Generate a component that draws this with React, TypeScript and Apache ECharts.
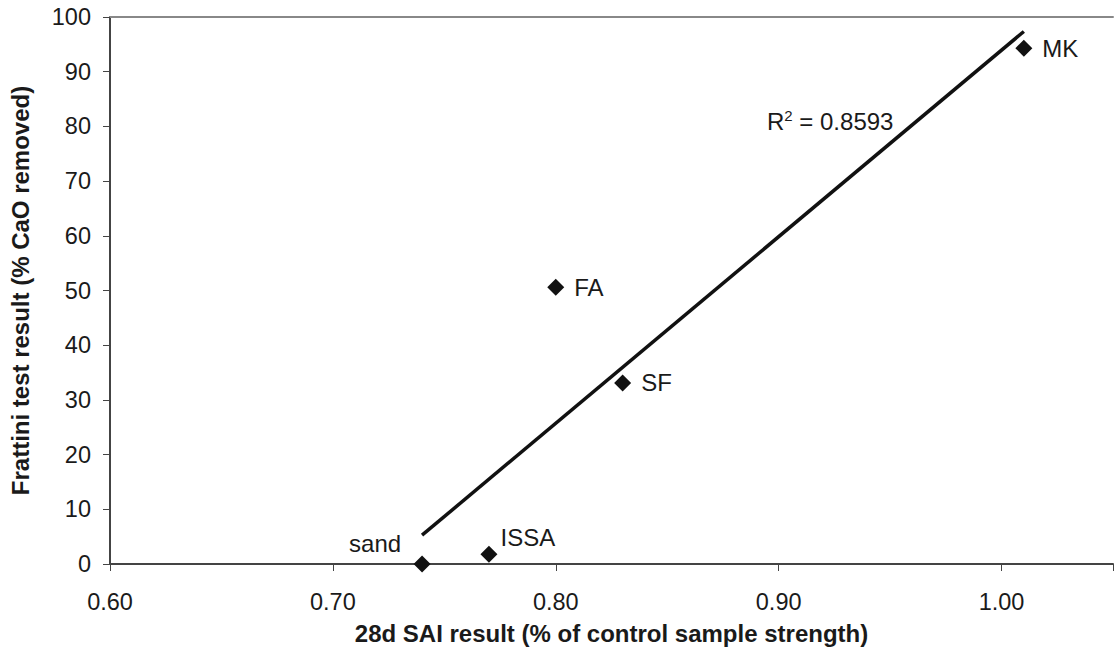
import React, { useEffect, useRef } from "react";
import * as echarts from "echarts";

const materials = ["sand", "ISSA", "FA", "SF", "MK"];
const saiValues = [0.74, 0.77, 0.8, 0.83, 1.01];
const frattiniValues = [0, 1.8, 50.6, 33.1, 94.3];
const labelOffsets: [number, number][] = [
  [-47, -21],
  [39, -17],
  [0, 0],
  [0, 0],
  [0, 0],
];
const rSquaredText = "0.8593";

const FONT = "Liberation Sans, Arial, sans-serif";
const TEXT = "#1a1a1a";

function regression(xs: number[], ys: number[]) {
  const n = xs.length;
  const mx = xs.reduce((a, b) => a + b, 0) / n;
  const my = ys.reduce((a, b) => a + b, 0) / n;
  let sxx = 0,
    sxy = 0;
  for (let i = 0; i < n; i++) {
    sxx += (xs[i] - mx) ** 2;
    sxy += (xs[i] - mx) * (ys[i] - my);
  }
  const slope = sxy / sxx;
  return { slope, intercept: my - slope * mx };
}

export default function App() {
  const ref = useRef<HTMLDivElement>(null);
  useEffect(() => {
    document.body.style.margin = "0";
    const chart = echarts.init(ref.current!, null, { renderer: "svg" });
    const { slope, intercept } = regression(saiValues, frattiniValues);
    const xMin = Math.min(...saiValues);
    const xMax = Math.max(...saiValues);
    const trend = [
      [xMin, intercept + slope * xMin],
      [xMax, intercept + slope * xMax],
    ];
    const points = materials.map((m, i) => {
      const off = labelOffsets[i];
      const custom = off[0] !== 0 || off[1] !== 0;
      return {
        name: m,
        value: [saiValues[i], frattiniValues[i]],
        label: custom
          ? { position: "inside", offset: off }
          : { position: "right", distance: 10 },
      };
    });
    chart.setOption({
      animation: false,
      backgroundColor: "#ffffff",
      textStyle: { fontFamily: FONT },
      grid: { left: 107, top: 17, right: 0, bottom: 98, containLabel: false },
      xAxis: [
        {
          type: "value",
          min: 0.6,
          max: 1.05,
          interval: 0.1,
          name: "28d SAI result (% of control sample strength)",
          nameLocation: "middle",
          nameGap: 57,
          nameTextStyle: { fontSize: 24, fontWeight: "bold", color: TEXT, fontFamily: FONT },
          axisLine: { show: true, lineStyle: { color: "#444", width: 2 } },
          axisTick: { show: true, length: 7, lineStyle: { color: "#444", width: 1 } },
          axisLabel: {
            fontSize: 23.5,
            color: TEXT,
            margin: 26,
            fontFamily: FONT,
            formatter: (v: number) =>
              Math.abs(Math.round(v * 10) - v * 10) < 1e-6 ? v.toFixed(2) : "",
          },
          splitLine: { show: false },
        },
        {
          type: "value",
          position: "top",
          min: 0.6,
          max: 1.05,
          axisLine: { show: true, lineStyle: { color: "#888", width: 2 } },
          axisTick: { show: false },
          axisLabel: { show: false },
          splitLine: { show: false },
        },
      ],
      yAxis: {
        type: "value",
        min: 0,
        max: 100,
        interval: 10,
        name: "Frattini test result (% CaO removed)",
        nameLocation: "middle",
        nameGap: 78,
        nameTextStyle: { fontSize: 24, fontWeight: "bold", color: TEXT, fontFamily: FONT },
        axisLine: { show: true, lineStyle: { color: "#444", width: 2 } },
        axisTick: { show: true, length: 7, lineStyle: { color: "#444", width: 1 } },
        axisLabel: { fontSize: 23.5, color: TEXT, margin: 19, fontFamily: FONT },
        splitLine: { show: false },
      },
      series: [
        {
          type: "line",
          data: trend,
          showSymbol: false,
          symbol: "none",
          lineStyle: { color: "#111", width: 3.5 },
          z: 2,
        },
        {
          type: "scatter",
          data: points,
          symbol: "diamond",
          symbolSize: 17,
          itemStyle: { color: "#111", opacity: 1 },
          label: {
            show: true,
            formatter: "{b}",
            fontSize: 24,
            color: TEXT,
            fontFamily: FONT,
          },
          z: 3,
        },
      ],
      graphic: [
        {
          type: "text",
          left: 767,
          top: 108,
          style: {
            text: "{r|R}{s|2}{r| = " + rSquaredText + "}",
            rich: {
              r: { fontSize: 24, fill: TEXT, fontFamily: FONT, verticalAlign: "bottom" },
              s: { fontSize: 15, fill: TEXT, fontFamily: FONT, verticalAlign: "top", padding: [0, 0, 10, 0] },
            },
          },
        },
      ],
    });
    return () => chart.dispose();
  }, []);
  return <div ref={ref} style={{ width: 1116, height: 662 }} />;
}
